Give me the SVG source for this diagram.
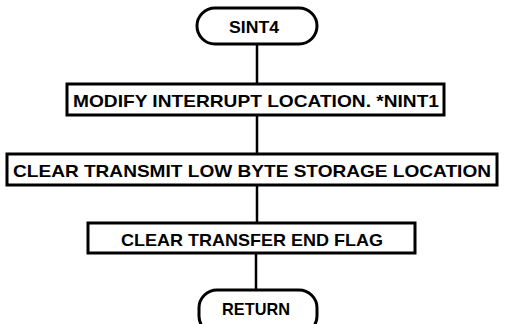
<svg xmlns="http://www.w3.org/2000/svg" width="506" height="324" viewBox="0 0 506 324">
<style>
.b{fill:#fff;stroke:#000;stroke-width:3}
.t{font-family:"Liberation Sans",Arial,sans-serif;font-weight:bold;font-size:17px;text-anchor:middle;fill:#000}
.c{stroke:#000;stroke-width:2.5;fill:none}
</style>
<rect width="506" height="324" fill="#fff"/>
<g id="connectors">
<line class="c" x1="257" y1="44" x2="257" y2="84"/>
<line class="c" x1="257" y1="115" x2="257" y2="154"/>
<line class="c" x1="257" y1="185" x2="257" y2="223"/>
<line class="c" x1="256" y1="253" x2="256" y2="290"/>
</g>
<g id="sint4">
<rect class="b" x="197" y="8" width="120" height="36" rx="18"/>
<text class="t" x="254" y="33" textLength="50" lengthAdjust="spacingAndGlyphs">SINT4</text>
</g>
<g id="modify">
<rect class="b" x="67" y="84" width="377" height="31"/>
<text class="t" x="256" y="107" textLength="366" lengthAdjust="spacingAndGlyphs">MODIFY INTERRUPT LOCATION. *NINT1</text>
</g>
<g id="clear-transmit">
<rect class="b" x="7" y="154" width="490" height="31"/>
<text class="t" x="252" y="177" textLength="478" lengthAdjust="spacingAndGlyphs">CLEAR TRANSMIT LOW BYTE STORAGE LOCATION</text>
</g>
<g id="clear-transfer">
<rect class="b" x="88" y="223" width="327" height="30"/>
<text class="t" x="252" y="246" textLength="262" lengthAdjust="spacingAndGlyphs">CLEAR TRANSFER END FLAG</text>
</g>
<g id="return">
<rect class="b" x="199" y="290" width="118" height="44" rx="18"/>
<text class="t" x="256" y="315" textLength="68" lengthAdjust="spacingAndGlyphs">RETURN</text>
</g>
</svg>
